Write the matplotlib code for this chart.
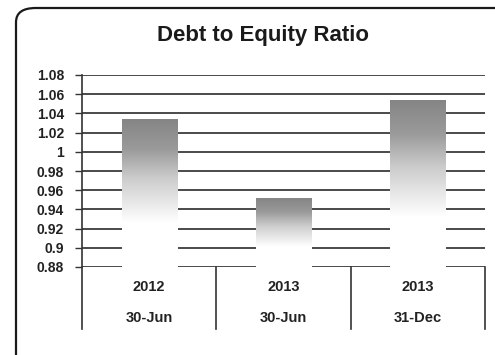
import numpy as np
import matplotlib
matplotlib.use("Agg")
import matplotlib.pyplot as plt
from matplotlib.patches import FancyBboxPatch
from matplotlib.colors import LinearSegmentedColormap
import matplotlib.transforms as mtransforms

plt.rcParams['font.family'] = ['Liberation Sans', 'DejaVu Sans']

title = "Debt to Equity Ratio"
years = ["2012", "2013", "2013"]
dates = ["30-Jun", "30-Jun", "31-Dec"]
values = [1.034, 0.951, 1.053]
yticks = [0.88, 0.9, 0.92, 0.94, 0.96, 0.98, 1.0, 1.02, 1.04, 1.06, 1.08]
ytick_labels = ["0.88", "0.9", "0.92", "0.94", "0.96", "0.98", "1", "1.02", "1.04", "1.06", "1.08"]

W, H = 495, 355
fig = plt.figure(figsize=(W / 100, H / 100), dpi=100)
fig.patch.set_facecolor('white')

# rounded outer border (extends past right/bottom edge as in reference)
border = FancyBboxPatch((16 / W, -20 / H), (W + 20 - 16) / W, (H - 8 + 20) / H,
                        boxstyle="round,pad=0,rounding_size=0.04",
                        transform=fig.transFigure, fill=False, ec='#1a1a1a', lw=1.6,
                        clip_on=False)
fig.patches.append(border)

ax = fig.add_axes([82 / W, 1 - 267 / H, (485 - 82) / W, (267 - 75) / H])
ax.set_xlim(-0.5, 2.5)
ax.set_ylim(0.88, 1.08)

for y in yticks:
    ax.axhline(y, color='#3c3c3c', lw=1.3, zorder=1)

ax.set_yticks(yticks)
ax.set_yticklabels(ytick_labels, fontsize=10, fontweight='bold', color='#222222')
ax.tick_params(axis='y', length=5, width=1, color='#333333', pad=8)
ax.set_xticks([])
for s in ['top', 'right', 'bottom']:
    ax.spines[s].set_visible(False)
ax.spines['left'].set_color('#333333')
ax.spines['left'].set_linewidth(1.2)

# gradient bars
cmap = LinearSegmentedColormap.from_list(
    'g', [(0.0, '#ffffff'), (0.3, '#ffffff'), (0.6, '#cccccc'), (0.8, '#9a9a9a'), (1.0, '#858585')])
bars = ax.bar(range(len(values)), [v - 0.88 for v in values], bottom=0.88, width=0.41,
              color='none', edgecolor='none', zorder=2)
grad = np.linspace(0, 1, 256).reshape(-1, 1)
for b in bars:
    x0, y0 = b.get_x(), b.get_y()
    w, h = b.get_width(), b.get_height()
    ax.imshow(grad, cmap=cmap, aspect='auto', origin='lower',
              extent=[x0, x0 + w, y0, y0 + h], zorder=3, interpolation='bilinear')
ax.set_xlim(-0.5, 2.5)
ax.set_ylim(0.88, 1.08)

# category separators and labels
trans = mtransforms.blended_transform_factory(ax.transData, fig.transFigure)
for xs in [-0.5, 0.5, 1.5, 2.5]:
    ax.plot([xs, xs], [1 - 267 / H, 1 - 329 / H], transform=trans, color='#333333',
            lw=1.2, clip_on=False)
for i, (yr, dt) in enumerate(zip(years, dates)):
    ax.text(i, 1 - 287 / H, yr, transform=trans, ha='center', va='center',
            fontsize=10.5, fontweight='bold', color='#222222')
    ax.text(i, 1 - 318 / H, dt, transform=trans, ha='center', va='center',
            fontsize=10.5, fontweight='bold', color='#222222')

fig.text(263 / W, 1 - 35 / H, title, ha='center', va='center', fontsize=16,
         fontweight='bold', color='#1a1a1a')

fig.savefig('out.png', dpi=100)
